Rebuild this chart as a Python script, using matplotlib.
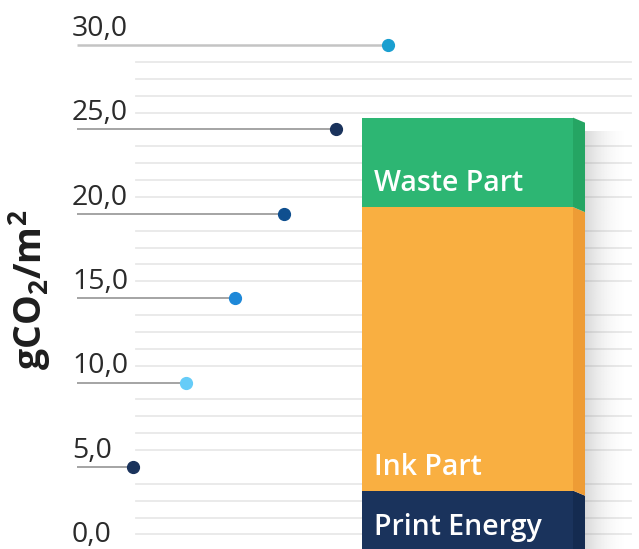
import matplotlib.pyplot as plt
import numpy as np

# stacked bar segments (gCO2/m2)
segments = ['Print Energy', 'Ink Part', 'Waste Part']
seg_values = [3.6, 16.8, 5.3]
seg_colors = ['#1a335c', '#f9af41', '#2db673']
side_colors = ['#142b50', '#ee9c35', '#25a563']

# tick values with their lollipop leader ends
ticks = [0, 5, 10, 15, 20, 25, 30]
dot_x = [None, 133, 186, 235, 284, 336, 388]
dot_colors = [None, '#1a335c', '#66ccf8', '#1e88d8', '#0f4f8f', '#1a335c', '#1a9fd0']

plt.rcParams['font.family'] = ['Open Sans', 'DejaVu Sans']
plt.rcParams['mathtext.fontset'] = 'custom'
plt.rcParams['mathtext.rm'] = 'Open Sans:bold'
plt.rcParams['mathtext.it'] = 'Open Sans:bold'
plt.rcParams['mathtext.bf'] = 'Open Sans:bold'

fig = plt.figure(figsize=(6.39, 5.49), dpi=100)
ax = fig.add_axes([0, 0, 1, 1])
ax.set_xlim(0, 639)
ax.set_ylim(0.14, 32.67)
ax.axis('off')

# faint grid every unit, skipping the labelled ticks
for v in range(1, 30):
    if v % 5:
        ax.plot([136, 631], [v, v], color='#e8e8e8', lw=1.3, zorder=1)

# tick labels + leader lines
for v, dx, dc in zip(ticks, dot_x, dot_colors):
    ax.text(72, v + 0.55, f'{v:.1f}'.replace('.', ','), fontsize=20.5,
            color='#2b2b2b', ha='left', va='baseline', zorder=3)
    if dx is None:
        continue
    lc = '#c4c4c4' if v == 30 else '#8c8c8c'
    lw = 1.8 if v == 30 else 1.1
    ax.plot([77, dx], [v, v], color=lc, lw=lw, zorder=2, solid_capstyle='butt')
    ax.plot(dx, v, 'o', color=dc, markersize=8.5, zorder=3)

ax.text(30, 15.5, 'gCO$_2$/m$^2$', rotation=90, fontsize=27, fontweight='bold',
        color='#1e1e1e', ha='center', va='center')

# bar with 3D side face and soft shadow
x_left, x_right, depth, drop = 362, 573, 12, 0.3
total = sum(seg_values)
grad = np.zeros((2, 60, 4))
grad[..., :3] = 0.4
grad[..., 3] = np.linspace(0.25, 0.0, 60) ** 2 / 0.25
ax.imshow(grad, extent=[x_right + depth, x_right + depth + 45, 0, total - 0.8],
          aspect='auto', zorder=4, interpolation='bilinear')

bottom = 0
for name, val, c, sc in zip(segments, seg_values, seg_colors, side_colors):
    ax.bar((x_left + x_right) / 2, val, width=x_right - x_left, bottom=bottom,
           color=c, zorder=5, linewidth=0)
    top = bottom + val
    ax.fill([x_right, x_right + depth, x_right + depth, x_right],
            [bottom, bottom - drop, top - drop, top], color=sc, zorder=5, lw=0)
    ax.text(x_left + 12, bottom + 0.95, name, color='white', fontsize=20.5,
            fontweight='semibold', ha='left', va='baseline', zorder=6)
    bottom = top

fig.savefig('out.png', dpi=100)
